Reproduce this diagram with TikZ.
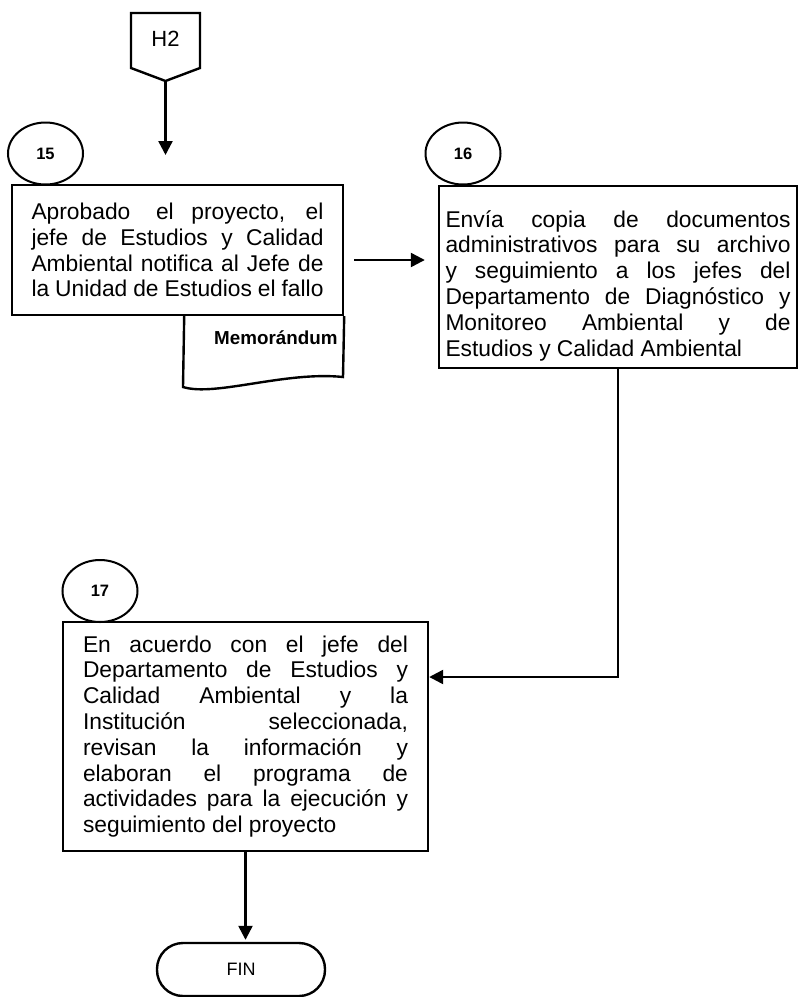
\documentclass[tikz,border=0pt]{standalone}
\usepackage{fontspec}
\setmainfont{Liberation Sans}
\usetikzlibrary{arrows.meta,shapes.geometric}
\newcommand\mainfs{\fontsize{22.8}{25.8}\selectfont}
\newcommand\jline[2]{\makebox[#1][s]{\spaceskip=0.2778em plus 20em minus 0.1em\relax #2}}
\setlength\parindent{0pt}
\begin{document}
\begin{tikzpicture}[x=1pt,y=-1pt,
  lw/.style={line width=2.4pt},
  proc/.style={draw, lw, rectangle, inner sep=0pt, font=\mainfs},
  numc/.style={draw, ellipse, line width=2pt, minimum width=75pt, minimum height=62pt, inner sep=0pt, font=\fontsize{16.5}{18}\selectfont\bfseries},
  arr/.style={lw, -{Triangle[length=14pt,width=14pt]}},
  ]
\useasboundingbox (0,0) rectangle (798,997);

% off-page connector H2
\draw[lw] (131,13) -- (200,13) -- (200,68) -- (165.5,81) -- (131,68) -- cycle;
\node[font=\fontsize{22}{24}\selectfont] (h2) at (165.5,39) {H2};
\coordinate (h2tip) at (165.5,81);
\coordinate (in15) at (165.5,155);

% step 15
\node[proc, minimum width=331pt, minimum height=130pt, text width=292pt] (b15) at (177.5,250)
 {\jline{292pt}{Aprobado \hspace{8pt}el proyecto, el}\\
  \jline{292pt}{jefe de Estudios y Calidad}\\
  \jline{292pt}{Ambiental notifica al Jefe de}\\
  \jline{292pt}{la Unidad de Estudios el fallo}};
\node[numc] (n15) at (45.5,153.5) {15};
\draw[lw] (b15.south east) ++(-160,0) coordinate (m1) -- (183,387)
  .. controls (215,397) and (285,371) .. (343,377) -- (b15.south east);
\node[font=\fontsize{18.8}{20}\selectfont\bfseries, anchor=east] (memo) at (341,338) {Memorándum};

% step 16
\node[proc, minimum width=358pt, minimum height=182pt, text width=345pt] (b16) at (618,277)
 {\jline{345pt}{\rule{0pt}{34pt}Envía copia de documentos}\\
  \jline{345pt}{administrativos para su archivo}\\
  \jline{345pt}{y seguimiento a los jefes del}\\
  \jline{345pt}{Departamento de Diagnóstico y}\\
  \jline{345pt}{Monitoreo Ambiental y de}\\
  \spaceskip=0.2778em\relax Estudios y Calidad Ambiental};
\node[numc] (n16) at (463,153.5) {16};

% step 17
\node[proc, minimum width=365pt, minimum height=229pt, text width=325pt] (b17) at (245.5,736.5)
 {\jline{325pt}{En acuerdo con el jefe del}\\
  \jline{325pt}{Departamento de Estudios y}\\
  \jline{325pt}{Calidad Ambiental y la}\\
  \jline{325pt}{Institución seleccionada,}\\
  \jline{325pt}{revisan la información y}\\
  \jline{325pt}{elaboran el programa de}\\
  \jline{325pt}{actividades para la ejecución y}\\
  \spaceskip=0.2778em\relax seguimiento del proyecto};
\node[numc] (n17) at (100,591) {17};

% end
\node[draw, lw, rounded corners=26pt, minimum width=168pt, minimum height=53pt,
      font=\fontsize{18}{20}\selectfont] (fin) at (241,969.5) {FIN};

% connectors
\coordinate (s1) at ([shift={(10,10)}]b15.east);
\draw[arr] (h2tip) -- (in15);
\draw[arr, shorten >=13pt] (s1) -- (s1 -| b16.west);
\draw[arr] (b16.south) -- (b16.south |- 0,677) -- (b17.east |- 0,677);
\draw[arr, shorten >=2pt] (b17.south) -- (b17.south |- fin.north);
\end{tikzpicture}
\end{document}
